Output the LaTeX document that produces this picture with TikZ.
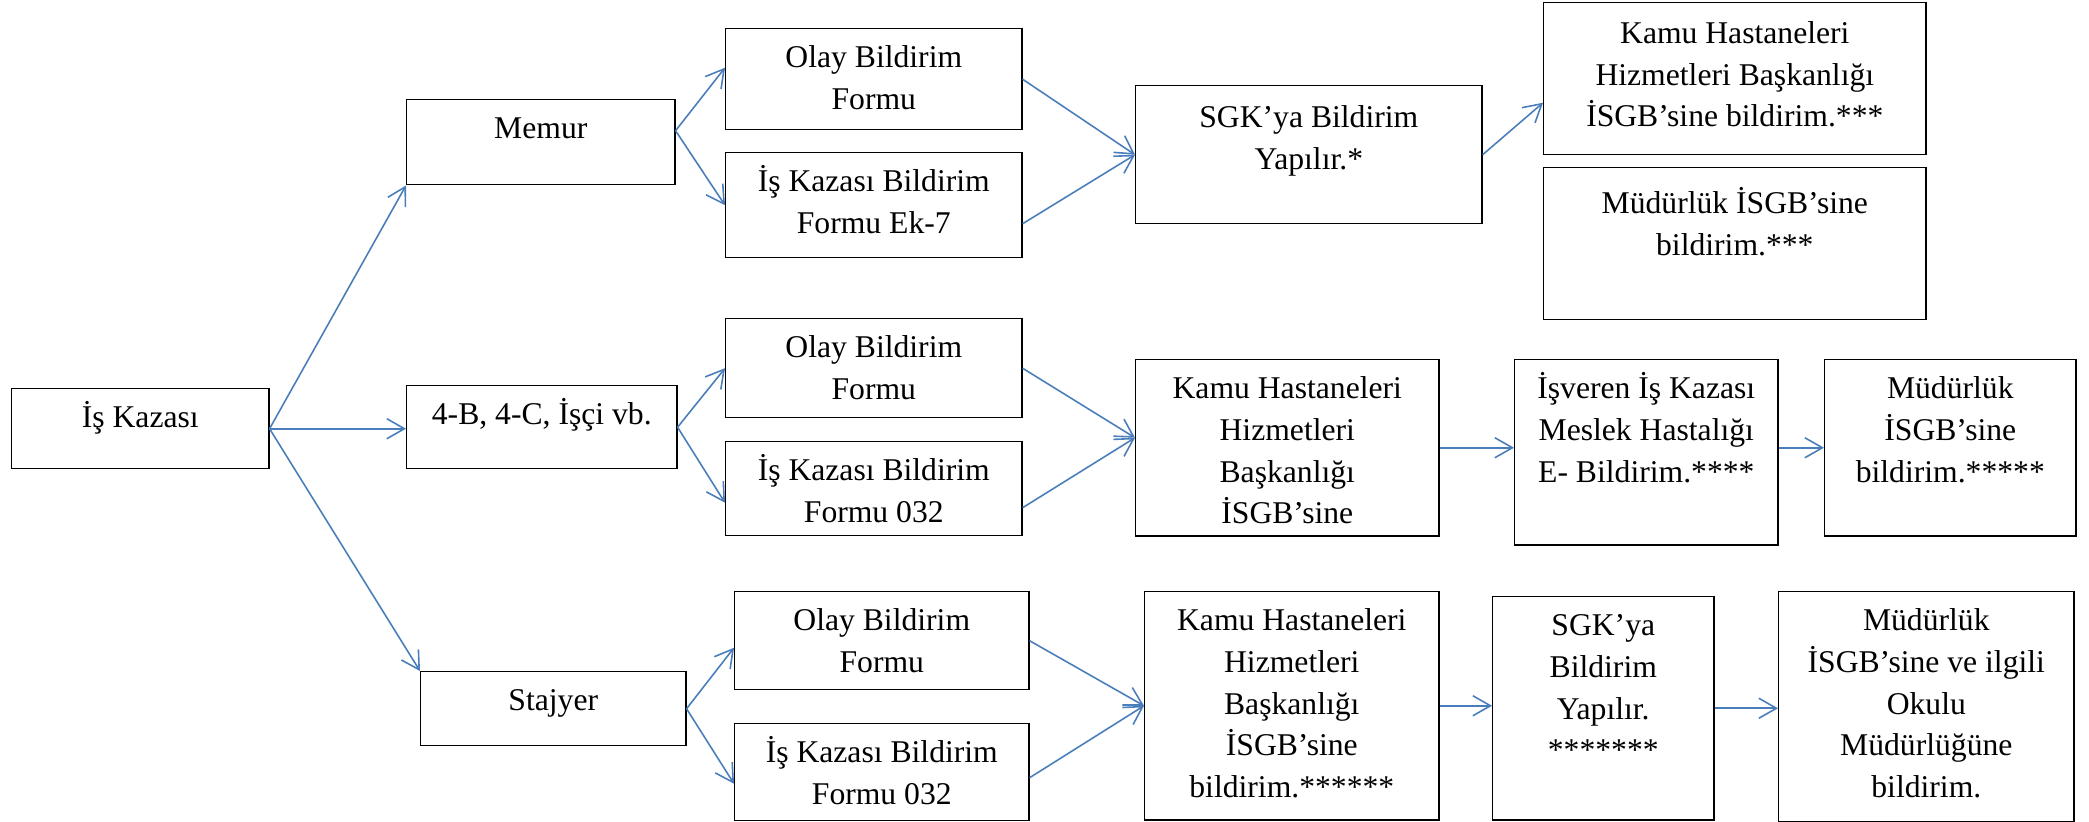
\documentclass[tikz,border=0pt]{standalone}
\usepackage{fontspec}
\setmainfont{Liberation Serif}
\definecolor{okmavi}{HTML}{4A7EBB}
\usetikzlibrary{arrows.meta}
\newcommand{\kutuyazi}[4][11.1pt]{\parbox[c][#3][t]{#2}{\centering\rule{0pt}{#1}#4\par}}

\begin{document}
\begin{tikzpicture}[x=0.01cm,y=-0.01cm,
  kutu/.style={draw,line width=0.4pt,inner sep=0pt,anchor=north west,font=\fontsize{9}{11.86}\selectfont},
  ok/.style={okmavi,line width=0.45pt,-{Straight Barb[length=5pt,width=5.7pt]}}]
  \useasboundingbox (0,0) rectangle (2089,822);
  % first column
  \node[kutu] (kaza) at (11,388) {\kutuyazi{2.57cm}{0.80cm}{İş Kazası}};
  \node[kutu] (memur) at (406,99) {\kutuyazi{2.68cm}{0.85cm}{Memur}};
  \node[kutu] (isci) at (406,385) {\kutuyazi{2.70cm}{0.83cm}{4-B, 4-C, İşçi vb.}};
  \node[kutu] (stajyer) at (420,671) {\kutuyazi{2.65cm}{0.74cm}{Stajyer}};
  % forms
  \node[kutu] (olay1) at (725,28) {\kutuyazi{2.96cm}{1.01cm}{Olay Bildirim\\Formu}};
  \node[kutu] (ek7) at (725,152) {\kutuyazi{2.96cm}{1.05cm}{İş Kazası Bildirim\\Formu Ek-7}};
  \node[kutu] (olay2) at (725,318) {\kutuyazi{2.96cm}{0.99cm}{Olay Bildirim\\Formu}};
  \node[kutu] (form2) at (725,441) {\kutuyazi{2.96cm}{0.94cm}{İş Kazası Bildirim\\Formu 032}};
  \node[kutu] (olay3) at (734,591) {\kutuyazi{2.94cm}{0.98cm}{Olay Bildirim\\Formu}};
  \node[kutu] (form3) at (734,723) {\kutuyazi{2.94cm}{0.97cm}{İş Kazası Bildirim\\Formu 032}};
  % notifications
  \node[kutu] (sgk1) at (1135,85) {\kutuyazi[11.9pt]{3.46cm}{1.38cm}{SGK’ya Bildirim\\Yapılır.*}};
  \node[kutu] (kamu1) at (1543,2) {\kutuyazi[11.6pt]{3.82cm}{1.52cm}{Kamu Hastaneleri\\Hizmetleri Başkanlığı\\İSGB’sine bildirim.***}};
  \node[kutu] (mud1) at (1543,167) {\kutuyazi[13.1pt]{3.82cm}{1.52cm}{Müdürlük İSGB’sine\\bildirim.***}};
  \node[kutu] (kamu2) at (1135,359) {\kutuyazi{3.03cm}{1.76cm}{Kamu Hastaneleri\\Hizmetleri\\Başkanlığı\\İSGB’sine}};
  \node[kutu] (isveren) at (1514,359) {\kutuyazi{2.63cm}{1.85cm}{İşveren İş Kazası\\Meslek Hastalığı\\E- Bildirim.****}};
  \node[kutu] (mud2) at (1824,359) {\kutuyazi{2.51cm}{1.76cm}{Müdürlük\\İSGB’sine\\bildirim.*****}};
  \node[kutu] (kamu3) at (1144,591) {\kutuyazi{2.94cm}{2.28cm}{Kamu Hastaneleri\\Hizmetleri\\Başkanlığı\\İSGB’sine\\bildirim.******}};
  \node[kutu] (sgk3) at (1492,596) {\kutuyazi{2.21cm}{2.23cm}{SGK’ya\\Bildirim\\Yapılır.\\{}*******}};
  \node[kutu] (mud3) at (1778,591) {\kutuyazi{2.95cm}{2.30cm}{Müdürlük\\İSGB’sine ve ilgili\\Okulu\\Müdürlüğüne\\bildirim.}};
  % arrows from the accident box
  \draw[ok] (kaza.east) -- (memur.south west);
  \draw[ok] (kaza.east) -- (kaza.east -| isci.west);
  \draw[ok] (kaza.east) -- (stajyer.north west);
  % memur row
  \draw[ok] ([yshift=0.115cm]memur.east) -- ([yshift=0.115cm]olay1.west);
  \draw[ok] ([yshift=0.115cm]memur.east) -- (ek7.west);
  \draw[ok] (olay1.east) -- (sgk1.west);
  \draw[ok] ([yshift=-0.185cm]ek7.east) -- (sgk1.west);
  \draw[ok] (sgk1.east) -- ([yshift=-0.24cm]kamu1.west);
  % 4-B row
  \draw[ok] (isci.east) -- (olay2.west);
  \draw[ok] (isci.east) -- ([yshift=-0.14cm]form2.west);
  \draw[ok] (olay2.east) -- ([yshift=0.1cm]kamu2.west);
  \draw[ok] ([yshift=-0.19cm]form2.east) -- ([yshift=0.1cm]kamu2.west);
  \draw[ok] (kamu2.east) -- (kamu2.east -| isveren.west);
  \draw[ok] (kamu2.east -| isveren.east) -- (kamu2.east -| mud2.west);
  % stajyer row
  \draw[ok] (stajyer.east) -- ([yshift=-0.07cm]olay3.west);
  \draw[ok] (stajyer.east) -- ([yshift=-0.115cm]form3.west);
  \draw[ok] (olay3.east) -- (kamu3.west);
  \draw[ok] ([yshift=-0.055cm]form3.east) -- (kamu3.west);
  \draw[ok] (kamu3.east) -- (kamu3.east -| sgk3.west);
  \draw[ok] (sgk3.east) -- (sgk3.east -| mud3.west);
\end{tikzpicture}
\end{document}
